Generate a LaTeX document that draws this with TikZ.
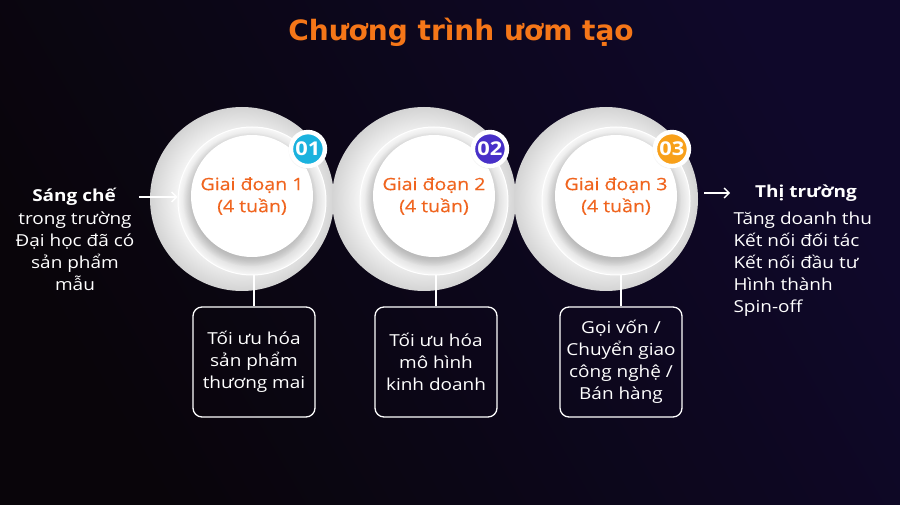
\documentclass[tikz,border=0pt]{standalone}
\usepackage{fontspec}
\setmainfont{Open Sans}[FakeStretch=1.15]
\newfontfamily\stagefont{Open Sans}[FakeStretch=1.15, FakeBold=0.4]
\newfontfamily\titlefont{DejaVu Sans}
\usetikzlibrary{shadows,arrows.meta}

\definecolor{bgdark}{RGB}{9,5,10}
\definecolor{bgnavy}{RGB}{15,8,42}
\definecolor{stageorange}{RGB}{240,100,30}
\definecolor{titleorange}{RGB}{245,118,24}
\definecolor{badgeA}{RGB}{27,178,222}
\definecolor{badgeB}{RGB}{72,48,200}
\definecolor{badgeC}{RGB}{248,160,26}
\pgfdeclareradialshading{outershade}{\pgfpoint{0bp}{0bp}}{color(0bp)=(white); color(15bp)=(white); color(25bp)=(gray!34); color(50bp)=(gray!34)}
\pgfdeclareradialshading{ringshade}{\pgfpoint{0bp}{0bp}}{color(0bp)=(gray!40); color(20bp)=(gray!34); color(25bp)=(gray!6); color(50bp)=(gray!6)}

\begin{document}
\begin{tikzpicture}[x=1pt, y=-1pt,
    outer/.style={circle, minimum size=184pt, inner sep=0pt, shading=outershade},
    ring/.style={circle, minimum size=148pt, inner sep=0pt, shading=ringshade, draw=white, line width=1pt},
    disk/.style={circle, minimum size=122pt, inner sep=0pt, fill=white, align=center, text=stageorange,
      font=\stagefont\fontsize{17}{22}\selectfont,
      circular drop shadow={shadow xshift=-2pt, shadow yshift=-3pt, opacity=0.3, fill=gray}},
    badge/.style={circle, minimum size=34pt, inner sep=0pt, draw=white, line width=4.5pt, text=white,
      font=\bfseries\fontsize{19}{19}\selectfont,
      circular drop shadow={shadow xshift=-1pt, shadow yshift=-1pt, opacity=0.3, fill=gray}},
    stagebox/.style={draw=white, line width=1.3pt, rounded corners=9pt, minimum width=122pt, minimum height=110pt,
      text=white, align=center, font=\fontsize{16.5}{22}\selectfont},
    body/.style={text=white, font=\fontsize{16.5}{22}\selectfont},
    arr/.style={-{Straight Barb[length=5pt]}, white, line width=1.3pt}]

    \shade[left color=bgdark, right color=bgnavy, shading angle=120] (0,0) rectangle (900,505);

    \node[font=\titlefont\bfseries\fontsize{28}{28}\selectfont, text=titleorange] (title) at (461,32) {Chương trình ươm tạo};

    \foreach \i/\cx/\bx/\col/\txt in {1/242/254/badgeA/{Tối ưu hóa\\sản phẩm\\thương mai},
        2/424/436/badgeB/{Tối ưu hóa\\mô hình\\kinh doanh},
        3/606/621/badgeC/{Gọi vốn /\\Chuyển giao\\công nghệ /\\Bán hàng}} {
      \node[outer] (st\i) at (\cx,199) {};
      \node[ring] (ring\i) at (\cx+10,201) {};
      \node[disk] (in\i) at (\cx+10,196) {Giai đoạn \i\\(4 tuần)};
      \node[badge, fill=\col] (b\i) at ([shift={(-40:73)}]in\i.center) {0\i};
      \node[stagebox] (box\i) at (\bx,362) {\txt};
      \draw[white, line width=1.3pt] (box\i.north |- ring\i.south) -- (box\i.north);
    }

    % dau vao
    \node[body, font=\bfseries\fontsize{16.5}{22}\selectfont] (src) at (74,197) {Sáng chế};
    \node[body, align=center, anchor=north] (srcnote) at (75,208) {trong trường\\Đại học đã có\\sản phẩm\\mẫu};
    \draw[arr] ([xshift=1pt]srcnote.east |- src) -- (ring1.west |- src);

    % dau ra
    \node[body, font=\bfseries\fontsize{16.5}{22}\selectfont] (mkt) at (806,193) {Thị trường};
    \node[body, align=left, anchor=north west] (mktnote) at (730,208) {Tăng doanh thu\\Kết nối đối tác\\Kết nối đầu tư\\Hình thành\\Spin-off};
    \draw[arr] ([xshift=6pt]st3.east |- mkt) -- (mktnote.west |- mkt);
\end{tikzpicture}
\end{document}
